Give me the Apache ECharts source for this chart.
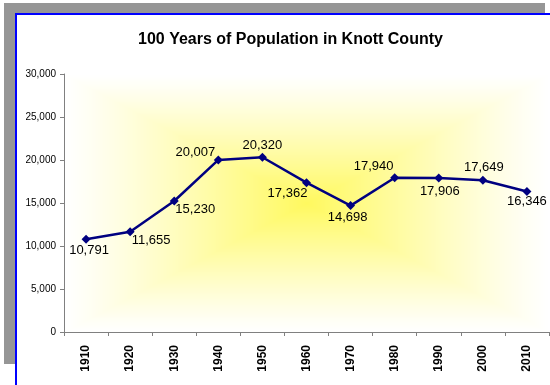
<!DOCTYPE html>
<html>
<head>
<meta charset="utf-8">
<script src="https://cdn.jsdelivr.net/npm/echarts@6/dist/echarts.min.js"></script>
<style>
  html, body { margin: 0; padding: 0; background: #ffffff; }
  #chart { width: 550px; height: 385px; }
</style>
</head>
<body>
<div id="chart"></div>
<script>
// Census years and county population
const years = ['1910', '1920', '1930', '1940', '1950', '1960', '1970', '1980', '1990', '2000', '2010'];
const population = [10791, 11655, 15230, 20007, 20320, 17362, 14698, 17940, 17906, 17649, 16346];
const yTicks = [0, 5000, 10000, 15000, 20000, 25000, 30000];

// Where each value label sits relative to its marker (dx, dy in px)
const labelOffsets = [
  [3, 11], [21, 9], [21, 8], [-23, -8], [0, -12], [-19, 11],
  [-3, 12], [-21, -11], [1, 13], [1, -13], [0, 10]
];

const FONT = 'Arial, "Liberation Sans", sans-serif';
const grid = { left: 64, top: 74, width: 485, height: 258 };

// Rectangular "from centre" fill: pale yellow in the middle fading to white at the edges
function plotFill(w, h) {
  const c = document.createElement('canvas');
  c.width = w; c.height = h;
  const ctx = c.getContext('2d');
  const img = ctx.createImageData(w, h);
  const cx = w / 2, cy = h / 2;
  const centre = [255, 249, 95];
  for (let y = 0; y < h; y++) {
    for (let x = 0; x < w; x++) {
      const d = Math.max(Math.abs(x - cx) / cx, Math.abs(y - cy) / cy);
      const t = Math.pow(Math.max(0, 1 - d), 1.15);
      const i = (y * w + x) * 4;
      img.data[i] = 255 + (centre[0] - 255) * t;
      img.data[i + 1] = 255 + (centre[1] - 255) * t;
      img.data[i + 2] = 255 + (centre[2] - 255) * t;
      img.data[i + 3] = 255;
    }
  }
  ctx.putImageData(img, 0, 0);
  return c;
}

const chart = echarts.init(document.getElementById('chart'), null, { renderer: 'canvas' });

chart.setOption({
  animation: false,
  backgroundColor: '#ffffff',
  graphic: [
    { type: 'rect', z: -10, shape: { x: 4, y: 3, width: 541, height: 361 }, style: { fill: '#969696' } },
    { type: 'rect', z: -9, shape: { x: 16, y: 14, width: 560, height: 400 },
      style: { fill: '#ffffff', stroke: '#0000ff', lineWidth: 2 } },
    { type: 'image', z: -8, x: grid.left, y: grid.top,
      style: { image: plotFill(grid.width, grid.height), width: grid.width, height: grid.height } }
  ],
  title: {
    text: '100 Years of Population in Knott County',
    left: 133,
    top: 27,
    textStyle: { fontFamily: FONT, fontSize: 16, fontWeight: 'bold', color: '#000000' }
  },
  grid: grid,
  xAxis: {
    type: 'category',
    data: years,
    boundaryGap: true,
    axisLine: { lineStyle: { color: '#808080', width: 1 } },
    axisTick: { show: true, length: 4, lineStyle: { color: '#808080' } },
    axisLabel: {
      rotate: 90,
      margin: 13,
      fontFamily: FONT,
      fontSize: 12,
      fontWeight: 'bold',
      color: '#000000'
    },
    splitLine: { show: false }
  },
  yAxis: {
    type: 'value',
    min: yTicks[0],
    max: yTicks[yTicks.length - 1],
    interval: yTicks[1] - yTicks[0],
    axisLine: { show: true, lineStyle: { color: '#808080', width: 1 } },
    axisTick: { show: true, length: 4, lineStyle: { color: '#808080' } },
    axisLabel: {
      margin: 8,
      fontFamily: FONT,
      fontSize: 10,
      color: '#000000',
      formatter: v => v.toLocaleString('en-US')
    },
    splitLine: { show: false }
  },
  series: [{
    type: 'line',
    data: population.map((v, i) => ({
      value: v,
      label: { offset: labelOffsets[i] }
    })),
    symbol: 'diamond',
    symbolSize: 9,
    lineStyle: { color: '#000080', width: 2.5 },
    itemStyle: { color: '#000080' },
    label: {
      show: true,
      position: 'inside',
      fontFamily: FONT,
      fontSize: 13,
      color: '#000000',
      formatter: p => p.value.toLocaleString('en-US')
    }
  }]
});
</script>
</body>
</html>
